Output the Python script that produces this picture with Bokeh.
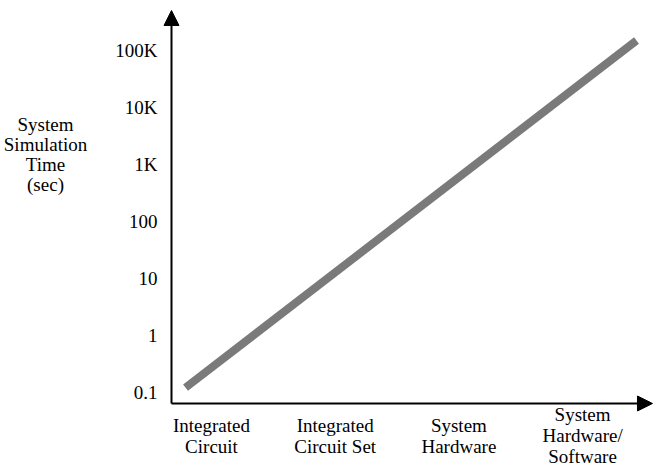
from bokeh.plotting import figure
from bokeh.models import FixedTicker, Range1d, Arrow, NormalHead, LinearAxis, LogAxis
from bokeh.core.properties import value
from bokeh.embed import file_html
from bokeh.resources import INLINE

# data
categories = ["Integrated\nCircuit", "Integrated\nCircuit Set", "System\nHardware", "System\nHardware/\nSoftware"]
cat_pos = [0, 1, 2, 3]
y_ticks = [0.1, 1, 10, 100, 1000, 10000, 100000]
y_tick_labels = ["0.1", "1", "10", "100", "1K", "10K", "100K"]
trend_x = [-0.21, 3.436]
trend_y = [0.122, 150000]
y_title = "System\nSimulation\nTime\n(sec)"

FONT = "Liberation Serif"
FS = "19px"

# view extents (data units)
xr0, xr1 = -1.7058, 3.5813
yr0, yr1 = 0.004457, 754000
ox, oy = -0.3234, 0.06412        # axis origin
x_tip, y_tip = 3.565, 503300     # arrow tips

p = figure(width=654, height=469, output_backend="svg", toolbar_location=None,
           x_range=Range1d(xr0, xr1), y_range=Range1d(yr0, yr1),
           x_axis_type="linear", y_axis_type="log",
           x_axis_location=None, y_axis_location=None,
           min_border=0, min_border_left=0, min_border_right=0,
           min_border_top=0, min_border_bottom=0)
p.outline_line_color = None
p.background_fill_color = "white"
p.border_fill_color = "white"
p.xgrid.visible = False
p.ygrid.visible = False

p.line(trend_x, trend_y, line_width=8, line_color="#7a7a7a")


def style(ax):
    ax.axis_line_color = None
    ax.major_tick_line_color = None
    ax.minor_tick_line_color = None
    ax.major_tick_out = 0
    ax.major_tick_in = 0
    ax.minor_tick_out = 0
    ax.minor_tick_in = 0
    ax.major_label_text_font = FONT
    ax.major_label_text_font_size = FS
    ax.major_label_text_color = "black"
    ax.major_label_text_line_height = 1.0


# x axis: two-line labels and the three-line label
xa1 = LinearAxis(fixed_location=oy, ticker=FixedTicker(ticks=cat_pos[:3]),
                 major_label_overrides={c: l for c, l in zip(cat_pos[:3], categories[:3])})
style(xa1)
xa1.major_label_standoff = 12
p.add_layout(xa1, "below")

xa2 = LinearAxis(fixed_location=oy, ticker=FixedTicker(ticks=cat_pos[3:]),
                 major_label_overrides={c: l for c, l in zip(cat_pos[3:], categories[3:])})
style(xa2)
xa2.major_label_standoff = 1
p.add_layout(xa2, "below")

ya = LogAxis(fixed_location=ox, ticker=FixedTicker(ticks=y_ticks, minor_ticks=[]),
             major_label_overrides={t: l for t, l in zip(y_ticks, y_tick_labels)})
style(ya)
ya.major_label_standoff = 14
p.add_layout(ya, "left")

# axis lines with arrow heads
p.add_layout(Arrow(end=NormalHead(size=15, fill_color="black", line_color="black"),
                   x_start=ox, y_start=oy, x_end=ox, y_end=y_tip, line_width=2, line_color="black"))
p.add_layout(Arrow(end=NormalHead(size=15, fill_color="black", line_color="black"),
                   x_start=ox, y_start=oy, x_end=x_tip, y_end=oy, line_width=2, line_color="black"))

# y axis title
p.text(x=[-1.342], y=[1497], text=[y_title], text_font=value(FONT), text_font_size=value(FS),
       text_align="center", text_baseline="middle", text_line_height=0.95, text_color="black")

open("out.html", "w").write(file_html(p, INLINE))
